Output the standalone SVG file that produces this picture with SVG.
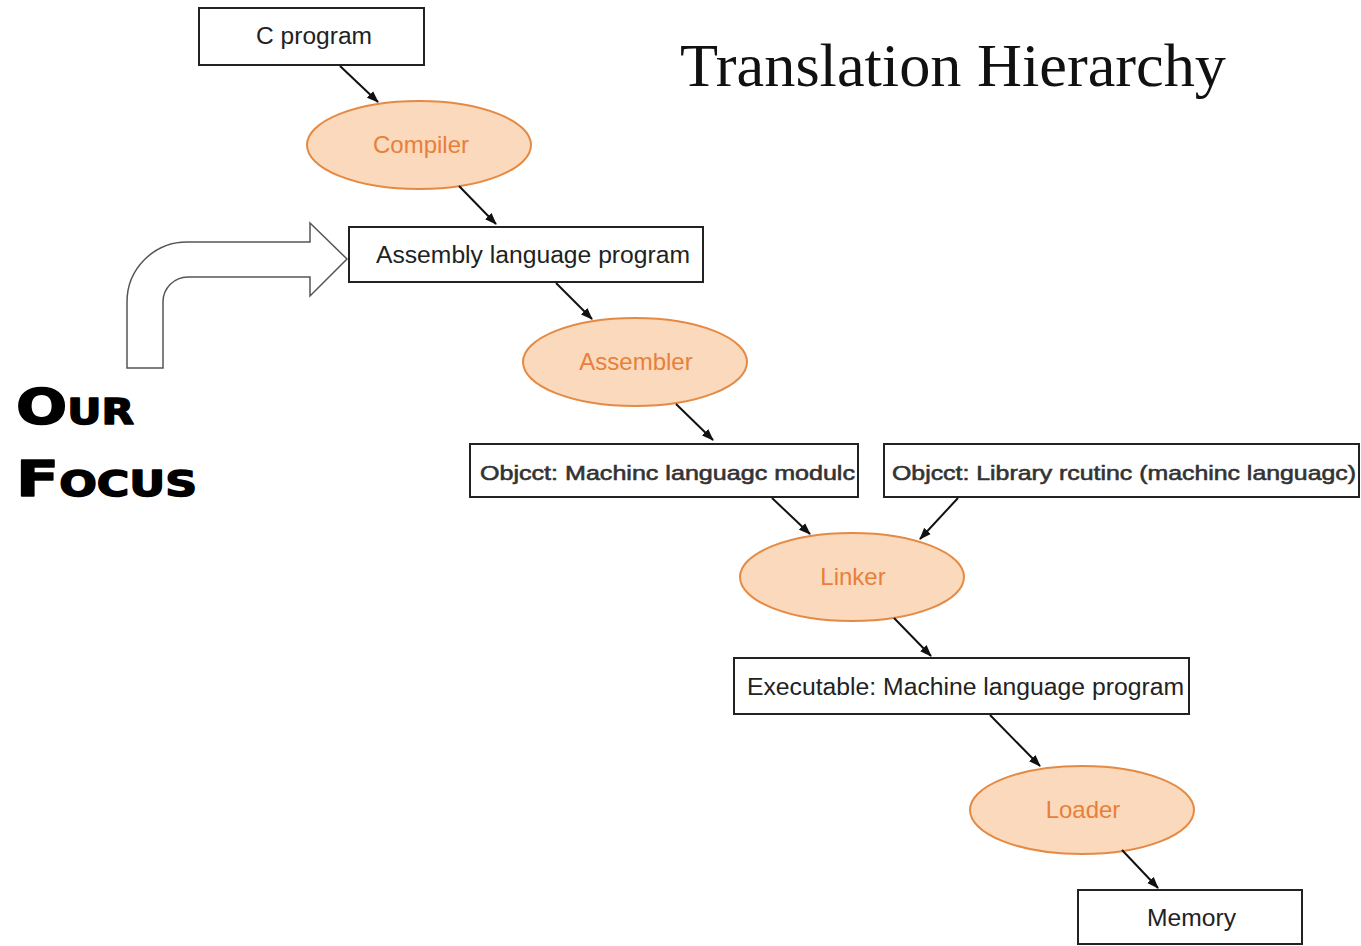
<svg xmlns="http://www.w3.org/2000/svg" width="1361" height="946" viewBox="0 0 1361 946">
<defs>
<marker id="ah" viewBox="0 0 12 10" refX="11" refY="5" markerWidth="12" markerHeight="10" markerUnits="userSpaceOnUse" orient="auto">
<path d="M0,0.5 L12,5 L0,9.5 Z" fill="#111"/>
</marker>
<style>
.box{fill:#fff;stroke:#222;stroke-width:2}
.ell{fill:#fbd9bc;stroke:#e58a43;stroke-width:2}
.bt{font-family:"Liberation Sans",Arial,sans-serif;font-size:23px;fill:#222}
.ob{font-family:"Liberation Sans",Arial,sans-serif;font-size:21px;fill:#333;stroke:#333;stroke-width:0.6}
.et{font-family:"Liberation Sans",Arial,sans-serif;font-size:24px;fill:#e87f3a;text-anchor:middle}
.conn line{stroke:#111;stroke-width:2;marker-end:url(#ah)}
.hand{font-family:"DejaVu Sans",sans-serif;font-weight:bold;font-variant:small-caps;fill:#000;stroke:#000;stroke-width:1.5;stroke-linejoin:round}
</style>
</defs>
<rect width="1361" height="946" fill="#fff"/>
<text x="680" y="86" font-family="Liberation Serif,'Times New Roman',serif" font-size="62" fill="#111" textLength="546" lengthAdjust="spacingAndGlyphs">Translation Hierarchy</text>
<g id="focus-arrow">
<path d="M127,368 L127,302 A60,60 0 0 1 187,242 L310,242 L310,223 L347,259 L310,296 L310,277 L188,277 A25,25 0 0 0 163,302 L163,368 Z" fill="#fff" stroke="#555" stroke-width="1.5"/>
</g>
<g id="our-focus">
<text class="hand" x="16" y="424" font-size="50" textLength="118" lengthAdjust="spacingAndGlyphs">Our</text>
<text class="hand" x="16" y="496" font-size="50" textLength="181" lengthAdjust="spacingAndGlyphs">Focus</text>
</g>
<g id="c-program"><rect class="box" x="199" y="8" width="225" height="57"/><text class="bt" x="256" y="44" textLength="116" lengthAdjust="spacingAndGlyphs">C program</text></g>
<g id="compiler"><ellipse class="ell" cx="419" cy="145" rx="112" ry="44"/><text class="et" x="421" y="153">Compiler</text></g>
<g id="assembly"><rect class="box" x="349" y="227" width="354" height="55"/><text class="bt" x="376" y="263" textLength="314" lengthAdjust="spacingAndGlyphs">Assembly language program</text></g>
<g id="assembler"><ellipse class="ell" cx="635" cy="362" rx="112" ry="44"/><text class="et" x="636" y="370">Assembler</text></g>
<g id="object-module"><rect class="box" x="470" y="444" width="388" height="53"/><text class="ob" x="480" y="480" textLength="375" lengthAdjust="spacingAndGlyphs">Objcct: Machinc languagc modulc</text></g>
<g id="object-library"><rect class="box" x="884" y="444" width="475" height="53"/><text class="ob" x="892" y="480" textLength="464" lengthAdjust="spacingAndGlyphs">Objcct: Library rcutinc (machinc languagc)</text></g>
<g id="linker"><ellipse class="ell" cx="852" cy="577" rx="112" ry="44"/><text class="et" x="853" y="585">Linker</text></g>
<g id="executable"><rect class="box" x="734" y="658" width="455" height="56"/><text class="bt" x="747" y="695" textLength="437" lengthAdjust="spacingAndGlyphs">Executable: Machine language program</text></g>
<g id="loader"><ellipse class="ell" cx="1082" cy="810" rx="112" ry="44"/><text class="et" x="1083" y="818">Loader</text></g>
<g id="memory"><rect class="box" x="1078" y="890" width="224" height="54"/><text class="bt" x="1147" y="926" textLength="89" lengthAdjust="spacingAndGlyphs">Memory</text></g>
<g id="connectors" class="conn">
<line x1="340" y1="66" x2="378" y2="102"/>
<line x1="459" y1="186" x2="496" y2="224"/>
<line x1="556" y1="283" x2="592" y2="319"/>
<line x1="676" y1="404" x2="713" y2="440"/>
<line x1="772" y1="498" x2="810" y2="534"/>
<line x1="958" y1="498" x2="920" y2="539"/>
<line x1="894" y1="618" x2="931" y2="656"/>
<line x1="990" y1="715" x2="1040" y2="766"/>
<line x1="1122" y1="850" x2="1158" y2="888"/>
</g>
</svg>
